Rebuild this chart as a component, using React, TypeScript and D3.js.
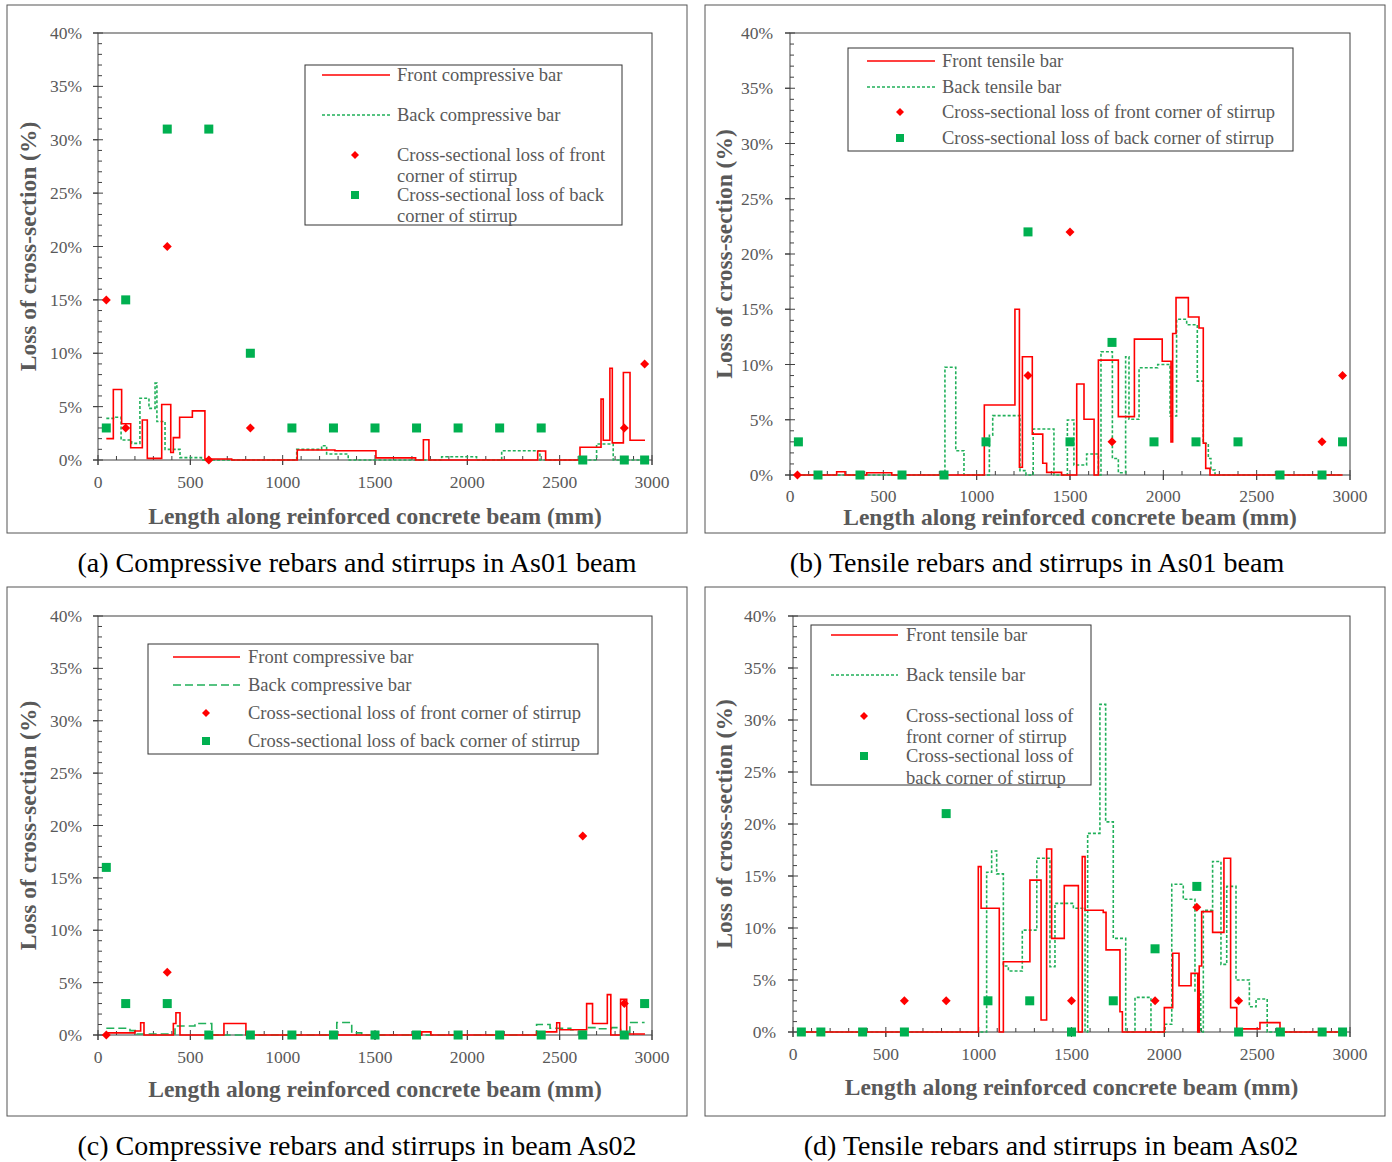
import React from 'react';
import * as d3 from 'd3';

// ---------- shared ----------
const stirrupX = [45, 150, 375, 600, 825, 1050, 1275, 1500, 1725, 1950, 2175, 2400, 2625, 2850, 2960];
const xMajorTicks = [0, 500, 1000, 1500, 2000, 2500, 3000];
const yMajorTicks = [0, 5, 10, 15, 20, 25, 30, 35, 40];

// ---------- panel (a) ----------
const aFrontX = [45, 83, 128, 177, 240, 267, 345, 394, 408, 442, 511, 579, 724, 1079, 1283, 1505, 1720, 1762, 1792, 2381, 2424, 2610, 2724, 2736, 2772, 2785, 2845, 2881, 2962];
const aFrontY = [2.0, 6.6, 3.4, 1.15, 3.75, 0.15, 5.2, 0.7, 2.1, 4.0, 4.6, 0.1, 0, 0.94, 0.87, 0.2, 0, 1.9, 0, 0.84, 0, 1.2, 5.7, 1.85, 8.6, 1.6, 8.2, 1.85, 1.85];
const aBackX = [45, 96, 125, 182, 227, 276, 309, 319, 363, 444, 560, 1076, 1211, 1238, 1355, 1861, 2050, 2186, 2393, 2700, 2790, 2960];
const aBackY = [3.9, 4.0, 1.87, 1.56, 5.78, 4.84, 7.2, 3.6, 1.0, 0.22, 0, 1.0, 1.34, 0.56, 0, 0.3, 0, 0.87, 0, 1.5, 0, 0];
const aFrontStirX = [45, 150, 375, 600, 825, 2850, 2960];
const aFrontStirY = [15, 3, 20, 0, 3, 3, 9];
const aBackStirY = [3, 15, 31, 31, 10, 3, 3, 3, 3, 3, 3, 3, 0, 0, 0];

// ---------- panel (b) ----------
const bFrontX = [40, 250, 295, 411, 545, 1041, 1205, 1229, 1245, 1298, 1354, 1375, 1455, 1536, 1575, 1629, 1652, 1759, 1845, 1994, 2041, 2050, 2068, 2134, 2191, 2214, 2227, 2250, 2960];
const bFrontY = [0, 0.3, 0, 0.2, 0, 6.34, 15.0, 0.7, 10.7, 3.7, 1.06, 0.24, 0, 8.24, 5.04, 0, 10.4, 5.28, 12.3, 10.3, 3.0, 12.8, 16.05, 14.3, 13.3, 2.87, 0.6, 0, 0];
const bBackX = [40, 830, 888, 932, 1068, 1086, 1232, 1264, 1303, 1414, 1486, 1521, 1589, 1652, 1666, 1727, 1759, 1798, 1816, 1870, 1970, 2036, 2071, 2125, 2182, 2214, 2241, 2255, 2277, 2960];
const bBackY = [0, 9.75, 2.2, 0, 3.6, 5.37, 0.4, 0, 4.16, 0, 4.98, 0.9, 1.9, 0, 11.16, 1.5, 0.2, 10.7, 5.04, 9.7, 10.0, 5.34, 14.1, 13.6, 8.5, 2.87, 1.5, 0.45, 0, 0];
const bFrontStirX = [40, 1275, 1500, 1725, 2850, 2960];
const bFrontStirY = [0, 9, 22, 3, 3, 9];
const bBackStirY = [3, 0, 0, 0, 0, 3, 22, 3, 12, 3, 3, 3, 0, 0, 3];

// ---------- panel (c) ----------
const cFrontX = [45, 200, 231, 249, 408, 422, 444, 682, 801, 1753, 1803, 2375, 2484, 2500, 2646, 2678, 2758, 2777, 2830, 2863, 2962];
const cFrontY = [0.2, 0.38, 1.17, 0, 1.1, 2.13, 0, 1.1, 0, 0.3, 0, 0.3, 1.17, 0.5, 3.0, 1.1, 3.85, 0, 3.4, 0.1, 0.1];
const cBackX = [45, 173, 210, 417, 525, 616, 1293, 1374, 1428, 2375, 2448, 2560, 2640, 2700, 2780, 2830, 2880, 2960];
const cBackY = [0.64, 0.42, 0.1, 0.86, 1.1, 0, 1.2, 0.2, 0, 1.0, 0.64, 0.5, 0.7, 0.6, 0.7, 0.2, 1.2, 1.2];
const cFrontStirX = [45, 375, 2625, 2850];
const cFrontStirY = [0, 6, 19, 3];
const cBackStirY = [16, 3, 3, 0, 0, 0, 0, 0, 0, 0, 0, 0, 0, 0, 3];

// ---------- panel (d) ----------
const dFrontX = [40, 998, 1013, 1111, 1133, 1276, 1336, 1366, 1393, 1461, 1537, 1558, 1573, 1671, 1686, 1761, 1774, 2000, 2045, 2079, 2144, 2180, 2188, 2201, 2260, 2321, 2357, 2390, 2515, 2623, 2960];
const dFrontY = [0, 15.9, 11.9, 0, 6.76, 14.6, 1.15, 17.6, 9.0, 14.07, 0, 16.86, 11.7, 11.5, 7.9, 1.95, 0, 2.34, 7.57, 4.45, 5.64, 0, 6.35, 11.57, 9.58, 16.7, 2.34, 0.3, 0.9, 0, 0];
const dBackX = [40, 1043, 1070, 1097, 1133, 1160, 1235, 1313, 1384, 1411, 1510, 1573, 1587, 1653, 1684, 1725, 1792, 1842, 1928, 2004, 2040, 2102, 2165, 2196, 2210, 2260, 2305, 2336, 2386, 2458, 2494, 2554, 2960];
const dBackY = [0, 15.36, 17.4, 15.2, 6.35, 5.87, 9.8, 16.7, 6.28, 12.37, 11.9, 0, 19.1, 31.5, 20.2, 9.0, 0, 3.33, 0, 0.74, 14.2, 12.76, 3.94, 0, 11.7, 16.4, 6.5, 14.0, 5.0, 2.43, 3.17, 0, 0];
const dFrontStirX = [600, 825, 1500, 1950, 2175, 2400];
const dFrontStirY = [3, 3, 3, 3, 12, 3];
const dBackStirY = [0, 0, 0, 0, 21, 3, 3, 0, 3, 8, 14, 0, 0, 0, 0];

const captions = [
  '(a) Compressive rebars and stirrups in As01 beam',
  '(b) Tensile rebars and stirrups in As01 beam',
  '(c) Compressive rebars and stirrups in beam As02',
  '(d) Tensile rebars and stirrups in beam As02',
];

const RED = '#ff0000';
const GREEN = '#00b050';
const GREEN_LINE = '#21b05a';
const TXT = '#595959';
const AXIS = '#404040';
const FONT = '"Liberation Serif", "Times New Roman", serif';

type LegendItem = { kind: 'line' | 'dash' | 'diamond' | 'square'; sy: number; texts: [string, number][] };

type PanelCfg = {
  frame: [number, number, number, number];
  x0: number; x1: number; yt: number; yb: number;
  frontX: number[]; frontY: number[]; backX: number[]; backY: number[];
  fsX: number[]; fsY: number[]; bsY: number[];
  dash: string;
  yTickRight: number; xTickBase: number; xTitleY: number; yTitleX: number;
  caption: string; captionX: number; captionY: number;
  legend: { box: [number, number, number, number]; lx0: number; lx1: number; mx: number; tx: number; items: LegendItem[] };
};

function Diamond({ cx, cy, r = 4.5 }: { cx: number; cy: number; r?: number }) {
  return <path d={`M${cx},${cy - r}L${cx + r},${cy}L${cx},${cy + r}L${cx - r},${cy}Z`} fill={RED} />;
}
function Square({ cx, cy, s = 9 }: { cx: number; cy: number; s?: number }) {
  return <rect x={cx - s / 2} y={cy - s / 2} width={s} height={s} fill={GREEN} />;
}

function Panel({ c }: { c: PanelCfg }) {
  const x = d3.scaleLinear().domain([0, 3000]).range([c.x0, c.x1]);
  const y = d3.scaleLinear().domain([0, 40]).range([c.yb, c.yt]);
  const mk = (xs: number[], ys: number[]) =>
    d3.line<number>().x((_, i) => x(xs[i])).y((_, i) => y(ys[i])).curve(d3.curveStepAfter)(xs) || '';
  const minorX = d3.range(0, 3001, 100);
  const minorY = d3.range(0, 41, 1);
  const [fx, fy, fw, fh] = c.frame;
  const L = c.legend;
  return (
    <g>
      <rect x={fx} y={fy} width={fw} height={fh} fill="white" stroke="#555" strokeWidth={1} />
      <rect x={c.x0} y={c.yt} width={c.x1 - c.x0} height={c.yb - c.yt} fill="none" stroke={AXIS} strokeWidth={1} />
      {minorX.map((v) => (
        <line key={'mx' + v} x1={x(v)} x2={x(v)} y1={c.yb} y2={v % 500 === 0 ? c.yb + 5 : c.yb - 4} stroke={AXIS} strokeWidth={1} />
      ))}
      {xMajorTicks.map((v) => (
        <line key={'Mx' + v} x1={x(v)} x2={x(v)} y1={c.yb - 5} y2={c.yb + 5} stroke={AXIS} strokeWidth={1} />
      ))}
      {minorY.map((v) => (
        <line key={'my' + v} x1={c.x0} x2={v % 5 === 0 ? c.x0 - 5 : c.x0 + 4} y1={y(v)} y2={y(v)} stroke={AXIS} strokeWidth={1} />
      ))}
      {yMajorTicks.map((v) => (
        <line key={'My' + v} x1={c.x0 - 5} x2={c.x0 + 5} y1={y(v)} y2={y(v)} stroke={AXIS} strokeWidth={1} />
      ))}
      {yMajorTicks.map((v) => (
        <text key={'ty' + v} x={c.yTickRight} y={y(v) + 6} textAnchor="end" fontSize={17.5} fill={TXT} fontFamily={FONT}>{v}%</text>
      ))}
      {xMajorTicks.map((v) => (
        <text key={'tx' + v} x={x(v)} y={c.xTickBase} textAnchor="middle" fontSize={17.5} fill={TXT} fontFamily={FONT}>{v}</text>
      ))}
      <text x={(c.x0 + c.x1) / 2} y={c.xTitleY} textAnchor="middle" fontSize={23.5} fontWeight="bold" fill={TXT} fontFamily={FONT}>Length along reinforced concrete beam (mm)</text>
      <text transform={`translate(${c.yTitleX},${(c.yt + c.yb) / 2}) rotate(-90)`} textAnchor="middle" fontSize={23.5} fontWeight="bold" fill={TXT} fontFamily={FONT}>Loss of cross-section (%)</text>

      <path d={mk(c.backX, c.backY)} fill="none" stroke={GREEN_LINE} strokeWidth={1.6} strokeDasharray={c.dash} />
      <path d={mk(c.frontX, c.frontY)} fill="none" stroke={RED} strokeWidth={1.6} />
      {stirrupX.map((v, i) => <Square key={'s' + i} cx={x(v)} cy={y(c.bsY[i])} />)}
      {c.fsX.map((v, i) => <Diamond key={'d' + i} cx={x(v)} cy={y(c.fsY[i])} />)}

      <rect x={L.box[0]} y={L.box[1]} width={L.box[2]} height={L.box[3]} fill="white" stroke="#333" strokeWidth={1} />
      {L.items.map((it, i) => (
        <g key={'l' + i}>
          {it.kind === 'line' && <line x1={L.lx0} x2={L.lx1} y1={it.sy} y2={it.sy} stroke={RED} strokeWidth={1.4} />}
          {it.kind === 'dash' && <line x1={L.lx0} x2={L.lx1} y1={it.sy} y2={it.sy} stroke={GREEN_LINE} strokeWidth={1.4} strokeDasharray={c.dash} />}
          {it.kind === 'diamond' && <Diamond cx={L.mx} cy={it.sy} r={4} />}
          {it.kind === 'square' && <Square cx={L.mx} cy={it.sy} s={8} />}
          {it.texts.map(([t, ty], j) => (
            <text key={j} x={L.tx} y={ty + 6} fontSize={18.5} fill={TXT} fontFamily={FONT}>{t}</text>
          ))}
        </g>
      ))}
      <text x={c.captionX} y={c.captionY} textAnchor="middle" fontSize={28} fill="#000" fontFamily={FONT}>{c.caption}</text>
    </g>
  );
}

const panels: PanelCfg[] = [
  {
    frame: [7, 5, 680, 528], x0: 98, x1: 652, yt: 33, yb: 460,
    frontX: aFrontX, frontY: aFrontY, backX: aBackX, backY: aBackY,
    fsX: aFrontStirX, fsY: aFrontStirY, bsY: aBackStirY, dash: '3,2',
    yTickRight: 82, xTickBase: 488, xTitleY: 524, yTitleX: 36,
    caption: captions[0], captionX: 357, captionY: 572,
    legend: {
      box: [305, 65, 317, 160], lx0: 322, lx1: 390, mx: 355, tx: 397,
      items: [
        { kind: 'line', sy: 75, texts: [['Front compressive bar', 75]] },
        { kind: 'dash', sy: 115, texts: [['Back compressive bar', 115]] },
        { kind: 'diamond', sy: 155, texts: [['Cross-sectional loss of front', 155], ['corner of stirrup', 176]] },
        { kind: 'square', sy: 195, texts: [['Cross-sectional loss of back', 195], ['corner of stirrup', 216]] },
      ],
    },
  },
  {
    frame: [705, 5, 680, 528], x0: 790, x1: 1350, yt: 33, yb: 475,
    frontX: bFrontX, frontY: bFrontY, backX: bBackX, backY: bBackY,
    fsX: bFrontStirX, fsY: bFrontStirY, bsY: bBackStirY, dash: '3,2',
    yTickRight: 773, xTickBase: 502, xTitleY: 525, yTitleX: 732,
    caption: captions[1], captionX: 1037, captionY: 572,
    legend: {
      box: [848, 48, 445, 103], lx0: 867, lx1: 935, mx: 900, tx: 942,
      items: [
        { kind: 'line', sy: 61, texts: [['Front tensile bar', 61]] },
        { kind: 'dash', sy: 87, texts: [['Back tensile bar', 87]] },
        { kind: 'diamond', sy: 112, texts: [['Cross-sectional loss of front corner of stirrup', 112]] },
        { kind: 'square', sy: 138, texts: [['Cross-sectional loss of back corner of stirrup', 138]] },
      ],
    },
  },
  {
    frame: [7, 587, 680, 529], x0: 98, x1: 652, yt: 616, yb: 1035,
    frontX: cFrontX, frontY: cFrontY, backX: cBackX, backY: cBackY,
    fsX: cFrontStirX, fsY: cFrontStirY, bsY: cBackStirY, dash: '8,4',
    yTickRight: 82, xTickBase: 1063, xTitleY: 1097, yTitleX: 36,
    caption: captions[2], captionX: 357, captionY: 1155,
    legend: {
      box: [148, 644, 450, 110], lx0: 173, lx1: 240, mx: 206, tx: 248,
      items: [
        { kind: 'line', sy: 657, texts: [['Front compressive bar', 657]] },
        { kind: 'dash', sy: 685, texts: [['Back compressive bar', 685]] },
        { kind: 'diamond', sy: 713, texts: [['Cross-sectional loss of front corner of stirrup', 713]] },
        { kind: 'square', sy: 741, texts: [['Cross-sectional loss of back corner of stirrup', 741]] },
      ],
    },
  },
  {
    frame: [705, 587, 680, 529], x0: 793, x1: 1350, yt: 616, yb: 1032,
    frontX: dFrontX, frontY: dFrontY, backX: dBackX, backY: dBackY,
    fsX: dFrontStirX, fsY: dFrontStirY, bsY: dBackStirY, dash: '3,2',
    yTickRight: 776, xTickBase: 1060, xTitleY: 1095, yTitleX: 732,
    caption: captions[3], captionX: 1051, captionY: 1155,
    legend: {
      box: [811, 625, 280, 160], lx0: 831, lx1: 898, mx: 864, tx: 906,
      items: [
        { kind: 'line', sy: 635, texts: [['Front tensile bar', 635]] },
        { kind: 'dash', sy: 675, texts: [['Back tensile bar', 675]] },
        { kind: 'diamond', sy: 716, texts: [['Cross-sectional loss of', 716], ['front corner of stirrup', 737]] },
        { kind: 'square', sy: 756, texts: [['Cross-sectional loss of', 756], ['back corner of stirrup', 778]] },
      ],
    },
  },
];

export default function App() {
  return (
    <svg width={1392} height={1162} style={{ position: 'absolute', left: 0, top: 0, background: 'white' }}>
      <rect x={0} y={0} width={1392} height={1162} fill="white" />
      {panels.map((p, i) => <Panel key={i} c={p} />)}
    </svg>
  );
}
